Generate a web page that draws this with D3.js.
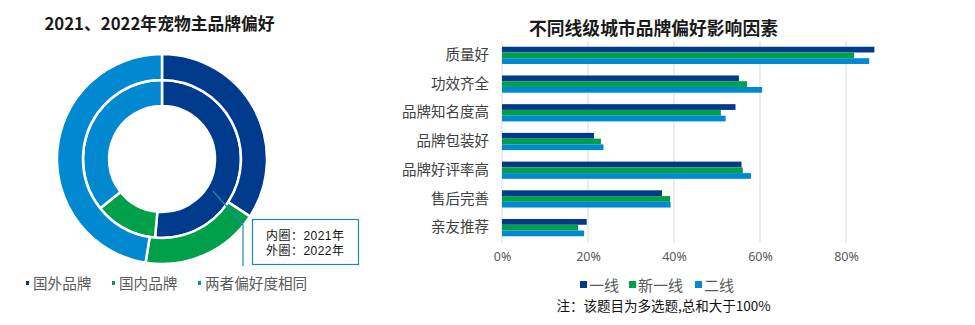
<!DOCTYPE html>
<html>
<head>
<meta charset="utf-8">
<script src="https://cdn.jsdelivr.net/npm/d3@7"></script>
<style>
body { margin: 0; background: #fff; }
text { font-family: "Noto Sans CJK SC", "Noto Sans", sans-serif; }
</style>
</head>
<body>
<script>
var width = 975, height = 325;

// donut data
var brandCats = ["国外品牌", "国内品牌", "两者偏好度相同"];
var inner2021 = [51.4, 12.9, 35.7];
var outer2022 = [34.2, 18.3, 47.5];
var colors = ["#003a8c", "#00a04a", "#0089d1"];
var ringNotes = ["内圈：2021年", "外圈：2022年"];

// bar data
var factors = ["质量好", "功效齐全", "品牌知名度高", "品牌包装好", "品牌好评率高", "售后完善", "亲友推荐"];
var tiers = ["一线", "新一线", "二线"];
var tier1 = [86.6, 55.1, 54.3, 21.4, 55.7, 37.2, 19.7];
var tierNew1 = [81.9, 57.0, 50.9, 23.0, 56.0, 39.1, 17.7];
var tier2 = [85.4, 60.5, 52.0, 23.6, 57.9, 39.2, 19.1];
var xTicks = [0, 20, 40, 60, 80];

var svg = d3.select("body").append("svg")
	.attr("width", width)
	.attr("height", height);

// ---- left: donut ----
svg.append("text")
	.attr("x", 159.5).attr("y", 30)
	.attr("text-anchor", "middle")
	.style("font-size", "16.8px").style("font-weight", "bold")
	.attr("fill", "#1a1a1a")
	.text("2021、2022年宠物主品牌偏好");

var cx = 162, cy = 159;
var pie = d3.pie().sort(null).value(function(d) { return d; });
var innerArc = d3.arc().innerRadius(53).outerRadius(79);
var outerArc = d3.arc().innerRadius(79).outerRadius(105);

var donut = svg.append("g").attr("transform", "translate(" + cx + "," + cy + ")");

donut.selectAll("path.inner")
	.data(pie(inner2021))
	.enter().append("path")
	.attr("class", "inner")
	.attr("d", innerArc)
	.attr("fill", function(d, i) { return colors[i]; })
	.attr("stroke", "#fff").attr("stroke-width", 2.5);

donut.selectAll("path.outer")
	.data(pie(outer2022))
	.enter().append("path")
	.attr("class", "outer")
	.attr("d", outerArc)
	.attr("fill", function(d, i) { return colors[i]; })
	.attr("stroke", "#fff").attr("stroke-width", 2.5);

// annotation
svg.append("polyline")
	.attr("points", "213,191 243,225 243,266")
	.attr("fill", "none")
	.attr("stroke", "#1a8ab8")
	.attr("stroke-width", 1.2);

svg.append("rect")
	.attr("x", 252.5).attr("y", 219.5)
	.attr("width", 106).attr("height", 45)
	.attr("fill", "#fff")
	.attr("stroke", "#1a8ab8").attr("stroke-width", 1.2);

ringNotes.forEach(function(t, i) {
	svg.append("text")
		.attr("x", 266).attr("y", 239.5 + i * 15.5)
		.attr("textLength", 78)
		.style("font-size", "12px")
		.style("font-family", '"Liberation Sans", "Noto Sans CJK SC", sans-serif')
		.attr("fill", "#111")
		.text(t);
});

var leftLegendX = [26, 112, 198];
var leftLegend = svg.append("g");
brandCats.forEach(function(c, i) {
	leftLegend.append("rect")
		.attr("x", leftLegendX[i]).attr("y", 281)
		.attr("width", 3).attr("height", 4)
		.attr("fill", colors[i]);
	leftLegend.append("text")
		.attr("x", leftLegendX[i] + 7).attr("y", 288.5)
		.style("font-size", "14.6px")
		.attr("fill", "#595959")
		.text(c);
});

// ---- right: bars ----
var margin = { top: 41, left: 502, right: 0 };
var plotW = 430, plotH = 201;

var x = d3.scaleLinear()
	.domain([0, 100])
	.range([margin.left, margin.left + plotW]);

var y = d3.scaleBand()
	.domain(factors)
	.range([margin.top, margin.top + plotH])
	.paddingInner(0.4)
	.paddingOuter(0.2);

var sub = d3.scaleBand()
	.domain(tiers)
	.range([0, y.bandwidth()]);

svg.append("text")
	.attr("x", 653.5).attr("y", 35)
	.attr("text-anchor", "middle")
	.style("font-size", "17.8px").style("font-weight", "bold")
	.attr("fill", "#1a1a1a")
	.text("不同线级城市品牌偏好影响因素");

// grid
svg.append("g")
	.selectAll("line")
	.data(xTicks)
	.enter().append("line")
	.attr("x1", function(d) { return x(d); })
	.attr("x2", function(d) { return x(d); })
	.attr("y1", margin.top)
	.attr("y2", margin.top + plotH)
	.attr("stroke", "#d9d9d9")
	.attr("stroke-width", 1);

var series = [tier1, tierNew1, tier2];
series.forEach(function(vals, si) {
	svg.append("g")
		.selectAll("rect")
		.data(vals)
		.enter().append("rect")
		.attr("x", x(0))
		.attr("y", function(d, i) { return y(factors[i]) + sub(tiers[si]); })
		.attr("width", function(d) { return x(d) - x(0); })
		.attr("height", sub.bandwidth())
		.attr("fill", colors[si]);
});

// y axis labels
svg.append("g")
	.attr("transform", "translate(" + (margin.left - 13) + ",0)")
	.call(d3.axisLeft(y).tickSize(0).tickPadding(0))
	.call(function(g) { g.select(".domain").remove(); })
	.selectAll("text")
	.style("font-size", "14.5px")
	.style("font-family", '"Noto Sans CJK SC", sans-serif')
	.attr("fill", "#404040");

// x axis labels
svg.append("g")
	.attr("transform", "translate(0," + (margin.top + plotH) + ")")
	.call(d3.axisBottom(x).tickValues(xTicks).tickSize(0).tickPadding(10)
		.tickFormat(function(d) { return d + "%"; }))
	.call(function(g) { g.select(".domain").remove(); })
	.selectAll("text")
	.style("font-size", "12.5px")
	.style("font-family", '"Noto Sans", sans-serif')
	.attr("fill", "#595959");

// legend
var legX = [580, 629, 695];
tiers.forEach(function(t, i) {
	svg.append("rect")
		.attr("x", legX[i]).attr("y", 281)
		.attr("width", 7).attr("height", 7)
		.attr("fill", colors[i]);
	svg.append("text")
		.attr("x", legX[i] + 9).attr("y", 291)
		.style("font-size", "15px")
		.attr("fill", "#595959")
		.text(t);
});

svg.append("text")
	.attr("x", 663.5).attr("y", 311)
	.attr("text-anchor", "middle")
	.style("font-size", "13.5px")
	.attr("fill", "#111")
	.text("注：该题目为多选题,总和大于100%");
</script>
</body>
</html>
